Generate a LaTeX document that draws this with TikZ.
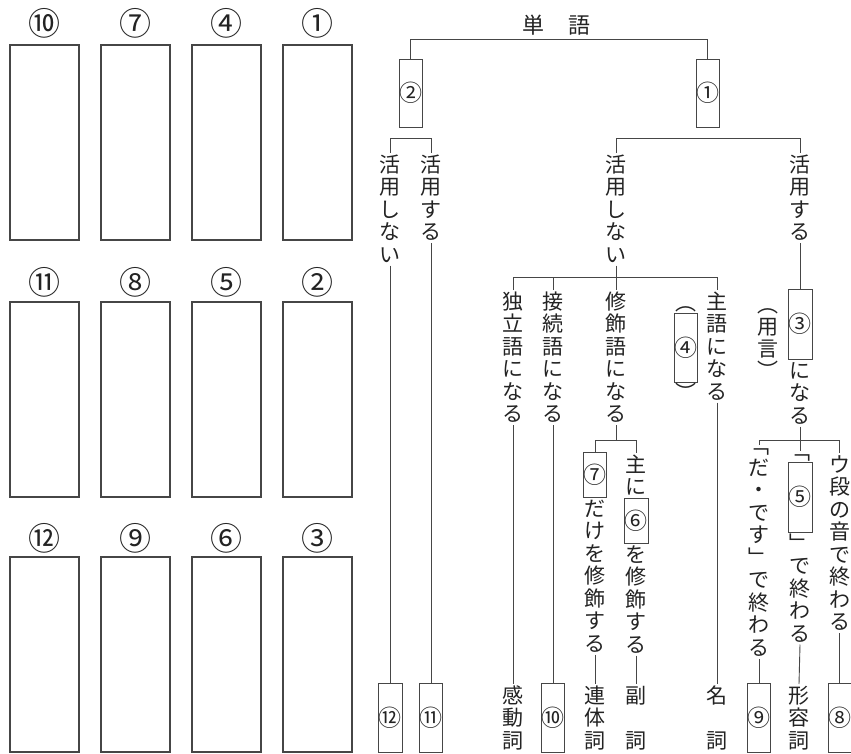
\documentclass[tikz,border=0pt]{standalone}
\usepackage{fontspec}
\newfontfamily\jp{Noto Sans CJK JP}
\definecolor{linec}{RGB}{70,70,70}
\definecolor{textc}{RGB}{35,35,35}
\newcommand\emstrut{\vrule height .88em depth .12em width 0pt\relax}
\newcommand\vtfull[1]{\hbox to 22pt{\hss\vbox to 22.5pt{\vss\hbox{\emstrut#1}\vss}\hss}}
\newcommand\vtbot[1]{\hbox to 22pt{\hss\vbox to 11.25pt{\vss\hbox{\emstrut#1}\kern0pt}\hss}}
\newcommand\vttop[1]{\hbox to 22pt{\hss\vbox to 11.25pt{\kern0pt\hbox{\emstrut#1}\vss}\hss}}
\ExplSyntaxOn
\NewDocumentCommand\vtext{m}{
  \vbox:n { \offinterlineskip
    \tl_map_inline:nn {#1} {
      \str_case:nnF {##1}
        { {﹁}{\vtbot{##1}} {︵}{\vtbot{##1}} {﹂}{\vttop{##1}} {︶}{\vttop{##1}} {」}{\vtfull{﹂}} }
        {\vtfull{##1}}
    }
  }
}
\ExplSyntaxOff
\tikzset{
  vt/.style={anchor=north, inner sep=0pt, outer sep=0pt, text=textc, font=\jp\fontsize{21}{22}\selectfont},
  nbox/.style={draw=linec, line width=0.9pt, inner sep=0pt, outer sep=0pt, fill=white, text=textc, font=\jp\fontsize{23}{23}\selectfont},
  lbox/.style={draw=linec, line width=1.3pt, inner sep=0pt, minimum width=69pt, minimum height=195pt},
  llab/.style={inner sep=0pt, text=textc, font=\jp\fontsize{32}{32}\selectfont},
  title/.style={inner sep=0pt, text=textc, font=\jp\fontsize{22}{22}\selectfont},
  conn/.style={draw=linec, line width=0.9pt}
}
\begin{document}
\begin{tikzpicture}[x=1pt,y=-1pt]
\fill[white] (0,0) rectangle (851,754);
\useasboundingbox (0,0) rectangle (851,754);

% ---------- left answer panel ----------
\node[llab] (l10) at (44.5,23) {⑩};
\node[llab] (l7) at (135.5,23) {⑦};
\node[llab] (l4) at (226.5,23) {④};
\node[llab] (l1) at (317.5,23) {①};
\node[lbox] (a10) at (44.5,142.5) {};
\node[lbox] (a7) at (135.5,142.5) {};
\node[lbox] (a4) at (226.5,142.5) {};
\node[lbox] (a1) at (317.5,142.5) {};
\node[llab] (l11) at (44.5,282) {⑪};
\node[llab] (l8) at (135.5,282) {⑧};
\node[llab] (l5) at (226.5,282) {⑤};
\node[llab] (l2) at (317.5,282) {②};
\node[lbox] (a11) at (44.5,399.5) {};
\node[lbox] (a8) at (135.5,399.5) {};
\node[lbox] (a5) at (226.5,399.5) {};
\node[lbox] (a2) at (317.5,399.5) {};
\node[llab] (l12) at (44.5,538) {⑫};
\node[llab] (l9) at (135.5,538) {⑨};
\node[llab] (l6) at (226.5,538) {⑥};
\node[llab] (l3) at (317.5,538) {③};
\node[lbox] (a12) at (44.5,654.5) {};
\node[lbox] (a9) at (135.5,654.5) {};
\node[lbox] (a6) at (226.5,654.5) {};
\node[lbox] (a3) at (317.5,654.5) {};

% ---------- tree ----------
\node[title] (tango) at (556.5,25) {単\hspace{25pt}語};
\node[nbox, minimum width=23pt, minimum height=68pt] (b2) at (410.5,93) {②};
\node[nbox, minimum width=23pt, minimum height=68pt] (b1) at (707.5,93) {①};

\node[vt] (kn1) at (390,153) {\vtext{活用しない}};
\node[vt] (ks1) at (431,153) {\vtext{活用する}};
\node[nbox, minimum width=24pt, minimum height=69pt] (b12) at (390,717.5) {⑫};
\node[nbox, minimum width=22pt, minimum height=69pt] (b11) at (431,717.5) {⑪};

\node[vt] (kn2) at (616,153) {\vtext{活用しない}};
\node[vt] (ks2) at (800,153) {\vtext{活用する}};
\node[vt] (dk) at (513,290) {\vtext{独立語になる}};
\node[vt] (sz) at (553,290) {\vtext{接続語になる}};
\node[vt] (sh) at (616,290) {\vtext{修飾語になる}};
\node[vt] (sg) at (717,290) {\vtext{主語になる}};
\node[vt] (p4a) at (686,301.75) {\vtext{︵}};
\node[nbox, minimum width=22pt, minimum height=69pt] (b4) at (686,347.5) {④};
\node[vt] (p4b) at (686,382) {\vtext{︶}};
\node[vt] (yg) at (768,304) {\vtext{︵用言︶}};
\node[nbox, minimum width=24pt, minimum height=70pt] (b3) at (800,324) {③};
\node[vt] (ni3) at (800,359) {\vtext{になる}};

\node[nbox, minimum width=22pt, minimum height=45pt] (b7) at (595,474.5) {⑦};
\node[vt] (dk7) at (595,497) {\vtext{だけを修飾する}};
\node[vt] (omo) at (636,453) {\vtext{主に}};
\node[nbox, minimum width=24pt, minimum height=45pt] (b6) at (636,520.5) {⑥};
\node[vt] (wo6) at (636,543) {\vtext{を修飾する}};

\node[vt] (dade) at (759,445) {\vtext{﹁だ・です」で終わる}};
\node[vt, anchor=south] (ob5) at (800,462) {\vtext{﹁}};
\node[nbox, minimum width=24pt, minimum height=70pt] (b5) at (800,497) {⑤};
\node[vt] (t5) at (800,532) {\vtext{」で終わる}};
\node[vt] (ud) at (839.5,453) {\vtext{ウ段の音で終わる}};

\node[vt] (kd) at (513,684) {\vtext{感動詞}};
\node[nbox, minimum width=23pt, minimum height=69pt] (b10) at (553,717.5) {⑩};
\node[vt] (rtk) at (595,684) {\vtext{連体詞}};
\node[vt] (fk) at (636,684) {\vtext{副　詞}};
\node[vt] (mk) at (717,684) {\vtext{名　詞}};
\node[nbox, minimum width=22pt, minimum height=69pt] (b9) at (759,717.5) {⑨};
\node[vt] (kyd) at (799,684) {\vtext{形容詞}};
\node[nbox, minimum width=22pt, minimum height=69pt] (b8) at (839.5,717.5) {⑧};

% ---------- connectors ----------
\draw[conn] (b2.north) -- ++(0,-20) -| (b1.north);
\draw[conn] (kn1.north) -- ++(0,-15) -| (ks1.north);
\draw[conn] (kn1.south) -- (kn1.south |- b12.north);
\draw[conn] (ks1.south) -- (ks1.south |- b11.north);
\draw[conn] (kn2.north) -- ++(0,-15) -| (ks2.north);
\draw[conn] (kn2.south) -- (sh.north);
\draw[conn] (dk.north) -- ++(0,-13) -| (sg.north);
\draw[conn] (sz.north) -- ++(0,-13);
\draw[conn] (dk.south) -- (kd.north);
\draw[conn] (sz.south) -- (b10.north);
\draw[conn] (sg.south) -- (mk.north);
\draw[conn] (ks2.south) -- (b3.north);
\draw[conn] (sh.south) -- ++(0,15);
\draw[conn] (b7.north) -- ++(0,-12) -| (omo.north);
\draw[conn] (dk7.south) -- (rtk.north);
\draw[conn] (wo6.south) -- (fk.north);
\draw[conn] (ni3.south) -- (ob5.north);
\draw[conn] (dade.north) -- ++(0,-5) -| (ud.north);
\draw[conn] (dade.south) -- (b9.north);
\draw[conn] (t5.south) -- (kyd.north);
\draw[conn] (ud.south) -- (b8.north);
\end{tikzpicture}
\end{document}
